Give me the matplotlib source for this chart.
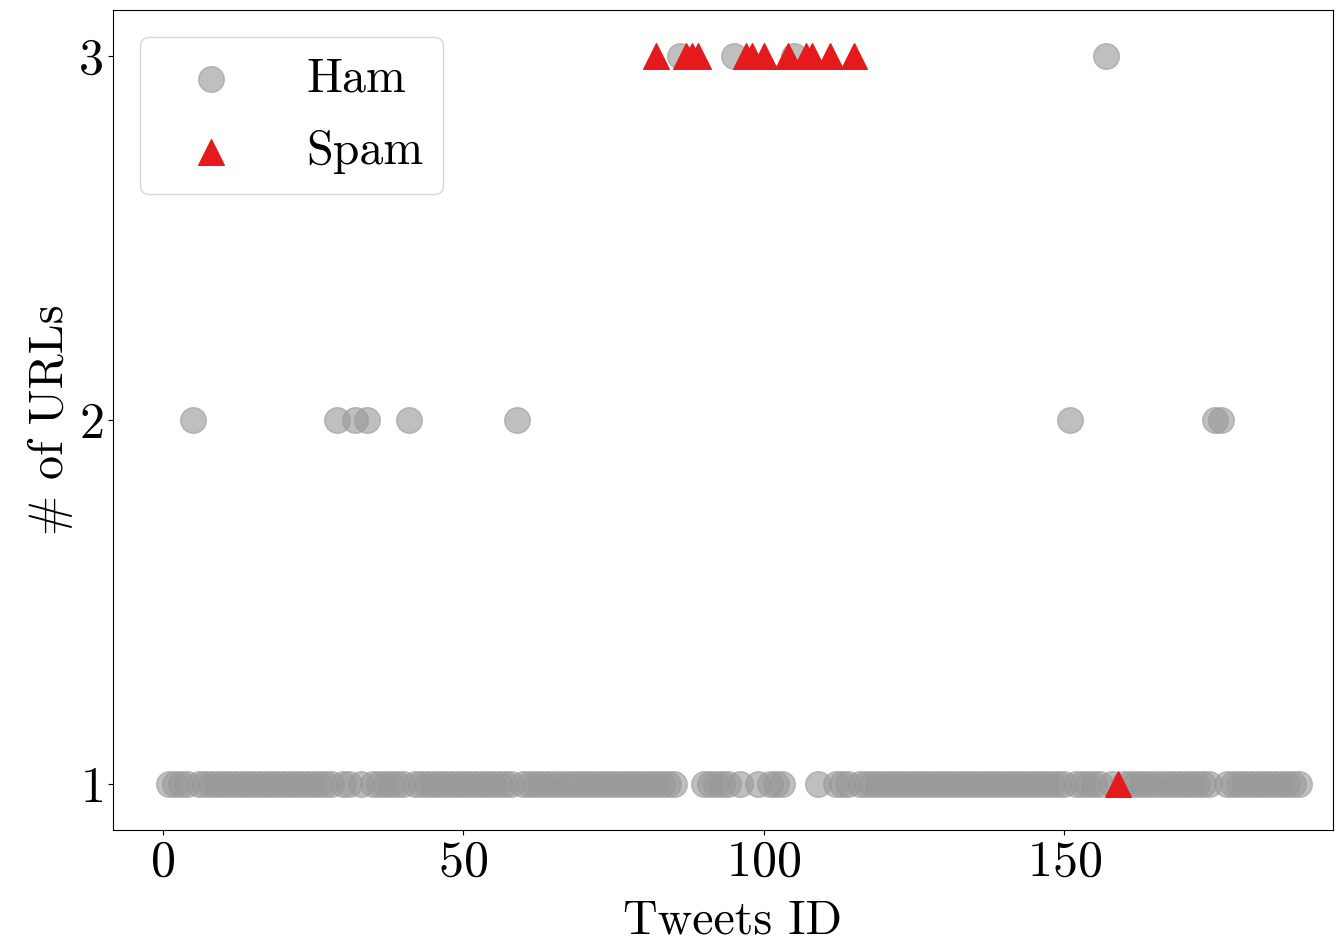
import matplotlib
matplotlib.use("Agg")
import matplotlib.pyplot as plt

# ham tweets, one list per number of URLs
ham_ids_1 = [1, 2, 3, 4, 6, 7, 8, 9, 10, 11, 12, 13, 14, 15, 16, 17, 18, 19, 20,
             21, 22, 23, 24, 25, 26, 27, 28, 30, 31, 33, 35, 36, 37, 38, 39, 40,
             42, 43, 44, 45, 46, 47, 48, 49, 50, 51, 52, 53, 54, 55, 56, 57, 58,
             60, 61, 62, 63, 64, 65, 66, 67, 68, 69, 70, 71, 72, 73, 74, 75, 76,
             77, 78, 79, 80, 81, 82, 83, 84, 85, 90, 91, 92, 93, 94, 96, 99, 101,
             102, 103, 109, 112, 113, 114, 116, 117, 118, 119, 120, 121, 122, 123,
             124, 125, 126, 127, 128, 129, 130, 131, 132, 133, 134, 135, 136, 137,
             138, 139, 140, 141, 142, 143, 144, 145, 146, 147, 148, 149, 150, 152,
             153, 154, 155, 156, 158, 160, 161, 162, 163, 164, 165, 166, 167, 168,
             169, 170, 171, 172, 173, 174, 177, 178, 179, 180, 181, 182, 183, 184,
             185, 186, 187, 188, 189]
ham_ids_2 = [5, 29, 32, 34, 41, 59, 151, 175, 176]
ham_ids_3 = [86, 95, 105, 157]

# spam tweets
spam_ids_1 = [159]
spam_ids_3 = [82, 87, 88, 89, 97, 98, 100, 104, 107, 108, 111, 115]

ham_x = ham_ids_1 + ham_ids_2 + ham_ids_3
ham_y = [1] * len(ham_ids_1) + [2] * len(ham_ids_2) + [3] * len(ham_ids_3)
spam_x = spam_ids_1 + spam_ids_3
spam_y = [1] * len(spam_ids_1) + [3] * len(spam_ids_3)

plt.rcParams['font.family'] = ['cmr10', 'DejaVu Serif']
plt.rcParams['mathtext.fontset'] = 'cm'
plt.rcParams['axes.formatter.use_mathtext'] = True
plt.rcParams['font.size'] = 36

fig = plt.figure(figsize=(13.35, 9.43), dpi=100)
ax = fig.add_axes([0.0846, 0.1198, 0.9139, 0.8696])

ax.scatter(ham_x, ham_y, s=340, color='#999999', alpha=0.62, marker='o', label='Ham')
ax.scatter(spam_x, spam_y, s=340, color='#e41a1c', marker='^', label='Spam')

ax.set_xlim(-8.3, 194.7)
ax.set_ylim(0.874, 3.126)
ax.set_xticks([0, 50, 100, 150])
ax.set_yticks([1, 2, 3])
ax.set_xlabel('Tweets ID', fontsize=34.5)
ax.xaxis.set_label_coords(0.508, -0.085)
ax.set_ylabel('# of URLs', fontsize=34.5)
ax.legend(loc='upper left', fontsize=34.5, borderpad=0.42, handlelength=2.15,
          handletextpad=0.9, labelspacing=0.6, borderaxespad=0.56)

fig.savefig('out.png', dpi=100)
